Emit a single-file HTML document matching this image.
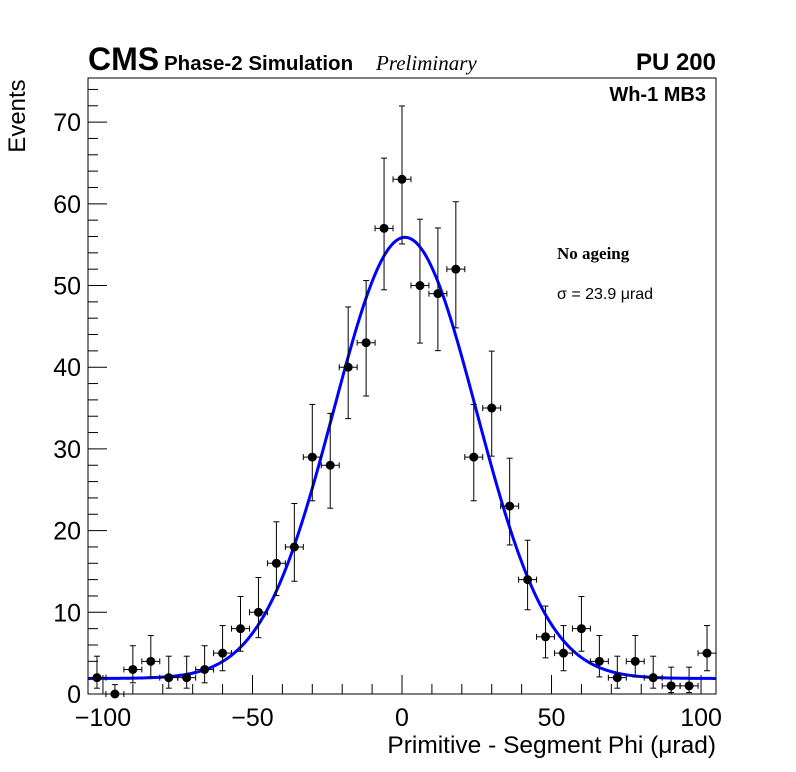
<!DOCTYPE html>
<html><head><meta charset="utf-8"><style>
body{margin:0;background:#fff;}
svg{display:block;font-family:"Liberation Sans",sans-serif;}
</style></head><body>
<svg id="c" width="796" height="772">
<rect x="0" y="0" width="796" height="772" fill="#fff"/>
<text x="88" y="70" font-size="32" font-weight="bold">CMS</text>
<text x="164" y="70" font-size="20.5" font-weight="bold">Phase-2 Simulation</text>
<text x="376" y="70" font-size="21" font-style="italic" font-family="Liberation Serif,serif">Preliminary</text>
<text x="716" y="70" font-size="24" font-weight="bold" text-anchor="end">PU 200</text>
<text x="706" y="101" font-size="20" font-weight="bold" text-anchor="end">Wh-1 MB3</text>
<text x="557" y="259" font-size="17" font-weight="bold" font-family="Liberation Serif,serif">No ageing</text>
<text x="557" y="299" font-size="16">σ = 23.9  μrad</text>
<text x="25" y="116" font-size="24" text-anchor="middle" transform="rotate(-90 25 116)">Events</text>
<text x="716" y="753" font-size="24.5" text-anchor="end">Primitive - Segment Phi (μrad)</text>
<g id="axes"></g>
<g id="marks"></g>
<rect x="88" y="78" width="628" height="616" fill="none" stroke="#000" stroke-width="1"/>
</svg>
<script>
const binCenters=[-102,-96,-90,-84,-78,-72,-66,-60,-54,-48,-42,-36,-30,-24,-18,-12,-6,0,6,12,18,24,30,36,42,48,54,60,66,72,78,84,90,96,102];
const counts=[2,0,3,4,2,2,3,5,8,10,16,18,29,28,40,43,57,63,50,49,52,29,35,23,14,7,5,8,4,2,4,2,1,1,5];
const xTicks=[-100,-50,0,50,100];
const yTicks=[0,10,20,30,40,50,60,70];
const fitMean=1, fitAmp=54, fitSigma=23.9, fitConst=1.9;
const binW=6;
const X0=88,X1=716,Y0=694,Y1=78,xmin=-105,xmax=105,ymin=0,ymax=75.4;
const sx=v=>X0+(v-xmin)/(xmax-xmin)*(X1-X0);
const sy=v=>Y0-(v-ymin)/(ymax-ymin)*(Y0-Y1);
const NS='http://www.w3.org/2000/svg';
const axes=document.getElementById('axes'),marks=document.getElementById('marks');
function mk(t,a,p){const e=document.createElementNS(NS,t);for(const k in a)e.setAttribute(k,a[k]);p.appendChild(e);return e;}
for(let v=-100;v<=100;v+=10){
  const major=v%50===0;
  const t=mk('line',{x1:sx(v),x2:sx(v),y1:Y0,y2:Y0-(major?19:10),stroke:'#000'},axes);
  
  
}
xTicks.forEach(v=>{
  const t=mk('text',{x:sx(v),y:726,'font-size':25,'text-anchor':'middle'},axes);
  t.textContent=v<0?'−'+Math.abs(v):String(v);
  
  
});
for(let v=0;v<=74;v+=2){
  const major=v%10===0;
  const t=mk('line',{x1:X0,x2:X0+(major?19:10),y1:sy(v),y2:sy(v),stroke:'#000'},axes);
  
  
}
yTicks.forEach(v=>{
  const t=mk('text',{x:81,y:sy(v)+9,'font-size':25,'text-anchor':'end'},axes);
  t.textContent=String(v);
  
  
});
let d='';
for(let i=0;i<=400;i++){const x=xmin+(xmax-xmin)*i/400;const y=fitConst+fitAmp*Math.exp(-0.5*((x-fitMean)/fitSigma)**2);d+=(i?'L':'M')+sx(x).toFixed(2)+' '+sy(y).toFixed(2);}
const fit=mk('path',{d:d,fill:'none',stroke:'#0000ff','stroke-width':3},marks);


function upP(n){const m=n+1;return m*Math.pow(1-1/(9*m)+1/(3*Math.sqrt(m)),3);}
function loP(n){if(n<=0)return 0;return n*Math.pow(1-1/(9*n)-1/(3*Math.sqrt(n)),3);}
binCenters.forEach((c,i)=>{
  const n=counts[i];
  const g=mk('g',{},marks);
  
  
  const px=sx(c),py=sy(n);
  mk('line',{x1:sx(c-binW/2),x2:sx(c+binW/2),y1:py,y2:py,stroke:'#000'},g);
  mk('line',{x1:sx(c-binW/2),x2:sx(c-binW/2),y1:py-3,y2:py+3,stroke:'#000'},g);
  mk('line',{x1:sx(c+binW/2),x2:sx(c+binW/2),y1:py-3,y2:py+3,stroke:'#000'},g);
  const hi=n>0?upP(n):1.15,lo=loP(n);
  mk('line',{x1:px,x2:px,y1:sy(hi),y2:sy(lo),stroke:'#000'},g);
  mk('line',{x1:px-3,x2:px+3,y1:sy(hi),y2:sy(hi),stroke:'#000'},g);
  if(n>0)mk('line',{x1:px-3,x2:px+3,y1:sy(lo),y2:sy(lo),stroke:'#000'},g);
  mk('circle',{cx:px,cy:py,r:4.5,fill:'#000'},g);
});
</script>
</body></html>
